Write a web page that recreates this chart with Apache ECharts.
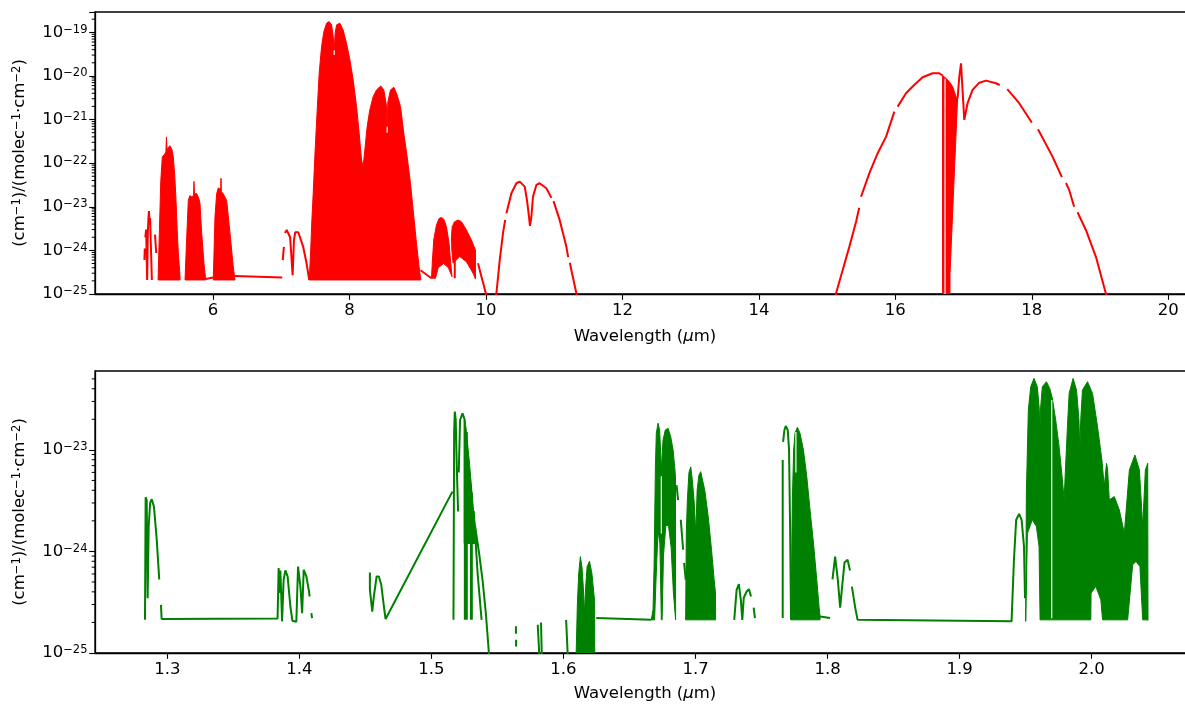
<!DOCTYPE html>
<html><head><meta charset="utf-8">
<script src="https://cdn.jsdelivr.net/npm/echarts@6/dist/echarts.min.js"></script>
<style>html,body{margin:0;padding:0;background:#fff}#c{width:1185px;height:704px}</style>
</head><body><div id="c"></div>
<script>
// ---------- tick values / labels ----------
const topXTicks = [6, 8, 10, 12, 14, 16, 18, 20];
const botXTicks = [1.3, 1.4, 1.5, 1.6, 1.7, 1.8, 1.9, 2.0];
const topYDecades = [1e-25, 1e-24, 1e-23, 1e-22, 1e-21, 1e-20, 1e-19];
const botYDecades = [1e-25, 1e-24, 1e-23];
const yTickExponents = {'-25':'−25','-24':'−24','-23':'−23','-22':'−22','-21':'−21','-20':'−20','-19':'−19'};
const minorMantissas = [2, 3, 4, 5, 6, 7, 8, 9];
const xAxisTitle = 'Wavelength ({i|μ}m)';
const yAxisTitle = '{b|(cm}{s|−1}{b|)/(molec}{s|−1}{b|·cm}{s|−2}{b|)}';

// ---------- TOP panel (red) : lines ----------
const tCurveA = [[4.995,6e-25],[5.000,1.1e-24],[5.003,null],[5.008,2.0e-24],[5.020,3.0e-24],[5.028,3e-24],[5.035,2.1e-25],[5.045,2.5e-24],[5.055,6e-24],[5.062,8e-24],[5.070,4e-24],[5.078,5.5e-24],[5.090,5.4e-24],[5.100,5e-24],[5.104,2.1e-25],[5.106,null],[5.150,2.3e-24],[5.168,8.7e-25]];
const tLink1 = [[5.893,2.2e-25],[6.004,2.4e-25]];
const tLink2 = [[6.322,2.6e-25],[7.015,2.4e-25]];
const tCurve7 = [[7.022,6e-25],[7.039,1.2e-24],[7.045,null],[7.054,2.5e-24],[7.080,2.94e-24],[7.102,2.9e-24],[7.130,2e-24],[7.152,6e-25],[7.167,2.7e-25],[7.186,1.7e-24],[7.205,2.6e-24],[7.225,2.7e-24],[7.250,2.6e-24],[7.273,2.5e-24],[7.322,1.2e-24],[7.372,5e-25],[7.410,2.1e-25]];
const tLink3 = [[9.041,3.5e-25],[9.202,2.3e-25]];
const tLine954 = [[9.543,4.5e-24],[9.543,2.3e-25]];
const tCurve10 = [[9.884,5.1e-25],[9.934,2.5e-25],[9.967,1.6e-25],[9.997,1.04e-25],[10.02,6e-26]];
const tArch10 = [[10.13,6e-26],[10.153,1.04e-25],[10.202,6e-25],[10.250,2.5e-24],[10.282,5e-24],[10.290,null],[10.300,7.1e-24],[10.373,2.04e-23],[10.446,3.46e-23],[10.495,3.77e-23],[10.568,2.89e-23],[10.601,1.43e-23],[10.631,5.9e-24],[10.645,3.63e-24],[10.666,5.9e-24],[10.689,1.7e-23],[10.739,3.16e-23],[10.787,3.46e-23],[10.885,2.65e-23],[10.960,1.6e-23],[10.970,null],[10.990,1.35e-23],[11.080,5e-24],[11.178,1.22e-24],[11.205,7e-25],[11.210,null],[11.230,5.2e-25],[11.251,3.55e-25],[11.325,1.04e-25],[11.36,6e-26]];
const tArch16a = [[15.10,6e-26],[15.131,1.04e-25],[15.228,3.55e-25],[15.326,1.22e-24],[15.424,4.55e-24],[15.470,9.5e-24],[15.480,null],[15.497,1.7e-23],[15.619,5.9e-23],[15.741,1.69e-22],[15.864,4.05e-22],[15.985,1.52e-21],[15.995,null],[16.033,1.98e-21],[16.156,4.0e-21],[16.253,5.7e-21],[16.399,9.3e-21],[16.546,1.15e-20],[16.644,1.15e-20],[16.692,1.02e-20]];
const tArch16b = [[16.912,3.08e-21],[16.937,9.6e-21],[16.962,1.95e-20],[16.976,8.1e-21],[17.010,9.8e-22],[17.058,2.37e-21],[17.131,4.77e-21],[17.230,7.0e-21],[17.328,7.8e-21],[17.474,6.8e-21],[17.530,6.2e-21],[17.560,null],[17.640,5e-21],[17.815,2.37e-21],[17.980,9.5e-22],[18.000,8.5e-22],[18.030,null],[18.090,6e-22],[18.303,1.41e-22],[18.440,4.8e-23],[18.470,null],[18.500,3.5e-23],[18.547,2.43e-23],[18.620,1e-23],[18.640,null],[18.670,7.5e-24],[18.792,2.94e-24],[18.938,7.2e-25],[19.084,1.04e-25],[19.12,6e-26]];
// white slits (gaps between lines) inside the dense red bands
const tGaps = [[16.728,8.6e-21],[16.728,1e-25],[16.729,null],[7.776,3.9e-20],[7.776,3e-20],[7.777,null],[8.552,6.9e-22],[8.552,5e-22]];

// ---------- TOP panel (red) : dense bands (upper / lower envelopes) ----------
const tBand1Up = [[5.195,2.1e-25],[5.215,3e-24],[5.235,4e-23],[5.257,1.4e-22],[5.290,1.6e-22],[5.310,1.8e-22],[5.318,4e-22],[5.326,2e-22],[5.345,2.3e-22],[5.370,2.5e-22],[5.400,2e-22],[5.418,1.4e-22],[5.440,5e-23],[5.458,1.4e-23],[5.475,3e-24],[5.492,8.6e-25],[5.517,2.5e-25]];
const tBand1Low = [[5.195,2.1e-25],[5.517,2.1e-25]];
const tBand2Up = [[5.590,2.1e-25],[5.615,2e-24],[5.638,1.4e-23],[5.660,1.8e-23],[5.688,1.7e-23],[5.715,1.8e-23],[5.721,3.8e-23],[5.728,2e-23],[5.761,2e-23],[5.790,1.6e-23],[5.809,1.2e-23],[5.834,2.5e-24],[5.868,5e-25],[5.893,2.1e-25]];
const tBand2Low = [[5.590,2.1e-25],[5.893,2.1e-25]];
const tBand3Up = [[6.004,2.1e-25],[6.029,6e-24],[6.054,2e-23],[6.077,2.7e-23],[6.100,2.6e-23],[6.113,2.4e-23],[6.117,4.5e-23],[6.122,2.2e-23],[6.150,2e-23],[6.200,1.4e-23],[6.249,2.5e-24],[6.297,4.2e-25],[6.322,2.1e-25]];
const tBand3Low = [[6.004,2.1e-25],[6.322,2.1e-25]];
const tMainUp = [[7.410,2.1e-25],[7.430,8.6e-25],[7.449,5e-24],[7.468,2e-23],[7.497,2e-22],[7.527,1.66e-21],[7.556,1.15e-20],[7.591,4.7e-20],[7.625,1.04e-19],[7.664,1.62e-19],[7.702,1.76e-19],[7.738,1.48e-19],[7.761,8e-20],[7.776,3.9e-20],[7.790,9.5e-20],[7.811,1.48e-19],[7.859,1.62e-19],[7.907,1.13e-19],[7.957,5.6e-20],[8.006,2.33e-20],[8.054,8.1e-21],[8.104,1.98e-21],[8.142,4.85e-22],[8.177,1.18e-22],[8.200,8.3e-23],[8.225,2e-22],[8.259,6.9e-22],[8.298,1.66e-21],[8.347,3.35e-21],[8.396,4.77e-21],[8.459,5.9e-21],[8.503,4.77e-21],[8.540,2.2e-21],[8.552,6.9e-22],[8.562,2.5e-21],[8.601,4.77e-21],[8.650,5.5e-21],[8.698,3.67e-21],[8.748,1.98e-21],[8.796,4.85e-22],[8.845,1.41e-22],[8.894,3.46e-23],[8.943,5.9e-24],[8.982,1.46e-24],[9.020,4.2e-25],[9.045,2.1e-25]];
const tMainLow = [[7.410,2.1e-25],[9.045,2.1e-25]];
const tBand9aUp = [[9.202,2.3e-25],[9.216,6e-25],[9.235,1.73e-24],[9.275,3.83e-24],[9.313,5.4e-24],[9.348,5.7e-24],[9.382,5.2e-24],[9.421,3.5e-24],[9.459,1.46e-24],[9.484,5.1e-25],[9.503,2.5e-25]];
const tBand9aLow = [[9.202,2.3e-25],[9.260,2.3e-25],[9.300,4e-25],[9.380,5e-25],[9.450,4e-25],[9.503,2.5e-25]];
const tBand9bUp = [[9.495,2.07e-24],[9.505,3.5e-24],[9.543,4.55e-24],[9.591,4.98e-24],[9.641,4.55e-24],[9.714,2.94e-24],[9.787,1.73e-24],[9.846,1.02e-24]];
const tBand9bLow = [[9.495,2.07e-24],[9.500,1e-24],[9.518,5.1e-25],[9.616,7.2e-25],[9.714,5.5e-25],[9.811,3e-25],[9.846,2.2e-25]];
const tBand16Up = [[16.692,1.02e-20],[16.720,9.5e-21],[16.750,8.5e-21],[16.790,7.4e-21],[16.839,5.7e-21],[16.889,3.35e-21],[16.912,3.08e-21]];
const tBand16Low = [[16.692,1e-25],[16.800,1e-25],[16.801,3e-25],[16.856,3e-23],[16.912,3.08e-21]];

// ---------- BOTTOM panel (green) : lines ----------
const gCurve1 = [[1.2831,2.12e-25],[1.2836,3.42e-24],[1.2844,3.2e-24],[1.2851,3.47e-25],[1.2859,1.76e-24],[1.2870,3e-24],[1.2882,3.27e-24],[1.2899,2.76e-24],[1.2920,1.3e-24],[1.2939,5.3e-25],[1.2945,null],[1.2952,2.98e-25],[1.2957,2.16e-25],[1.3835,2.19e-25],[1.3843,6.85e-25],[1.3850,3.9e-25],[1.3856,6.5e-25],[1.3862,4e-25],[1.3869,2.05e-25],[1.3881,5.26e-25],[1.3894,6.5e-25],[1.3911,5.67e-25],[1.3932,2.87e-25],[1.3947,2.08e-25],[1.3977,2.03e-25],[1.3990,7.1e-25],[1.4008,4.5e-25],[1.4021,2.47e-25],[1.4033,6.6e-25],[1.4053,5.67e-25],[1.4071,4.2e-25],[1.4078,3.6e-25],[1.4083,null],[1.4091,2.47e-25],[1.4096,2.21e-25]];
const gCurve2 = [[1.4534,6.2e-25],[1.4534,4.2e-25],[1.4552,2.56e-25],[1.4564,3.6e-25],[1.4585,5.67e-25],[1.4602,5.67e-25],[1.4620,4.7e-25],[1.4640,2.87e-25],[1.4653,2.16e-25],[1.5159,3.88e-24]];
const gCurve3 = [[1.5167,2.12e-25],[1.5172,1.5e-23],[1.5177,2.38e-23],[1.5184,1.97e-23],[1.5192,6.8e-24],[1.5202,2.47e-24],[1.5204,null],[1.5207,6e-24],[1.5217,1.97e-23],[1.5235,2.29e-23],[1.5253,1.97e-23]];
const gLines4 = [[1.5253,1.97e-23],[1.5253,2.12e-25],[1.5254,null],[1.5268,1.5e-23],[1.5268,2.12e-25],[1.5269,null],[1.5299,4.5e-24],[1.5299,2.12e-25],[1.5300,null],[1.5306,3.8e-24],[1.5306,2.12e-25],[1.5307,null],[1.5320,2.5e-24],[1.5350,6e-25],[1.5380,2.12e-25],[1.5381,null],[1.5330,1.8e-24],[1.5361,9.6e-25],[1.5387,5.26e-25],[1.5412,2.47e-25],[1.5438,9e-26]];
const gLines5 = [[1.5640,1.83e-25],[1.5640,1.55e-25],[1.5641,null],[1.5641,1.35e-25],[1.5641,1.16e-25],[1.5642,null],[1.5805,1.9e-25],[1.5818,9e-26],[1.5819,null],[1.5830,2.0e-25],[1.5836,9e-26],[1.5837,null],[1.6020,2.12e-25],[1.6033,9e-26]];
const gCurve7 = [[1.6248,2.21e-25],[1.6665,2.12e-25]];
const gCurve9 = [[1.6856,4.5e-24],[1.6868,3.2e-24],[1.6875,null],[1.6888,2.05e-24],[1.6906,1.04e-24],[1.6909,null],[1.6913,7.7e-25],[1.6926,5.26e-25]];
const gCurve11 = [[1.7293,2.12e-25],[1.7311,4.19e-25],[1.7328,4.77e-25],[1.7343,3.34e-25],[1.7354,2.12e-25],[1.7365,3.5e-25],[1.7387,4.03e-25],[1.7404,4.26e-25],[1.7420,3.6e-25],[1.7425,null],[1.7440,2.8e-25],[1.7450,2.21e-25]];
const gCurve12 = [[1.7660,2.21e-25],[1.7660,7.96e-24],[1.7661,null],[1.7663,1.2e-23],[1.7673,1.57e-23],[1.7683,1.72e-23],[1.7698,1.57e-23],[1.7708,1e-23],[1.7716,1.76e-24],[1.7723,2.12e-25]];
const gCurve14 = [[1.7943,2.29e-25],[1.8019,2.21e-25],[1.8025,null],[1.8037,5.3e-25],[1.8057,8.9e-25],[1.8077,5.3e-25],[1.8095,2.8e-25],[1.8110,4.5e-25],[1.8128,7.8e-25],[1.8151,8.27e-25],[1.8170,6.5e-25],[1.8176,null],[1.8184,4.5e-25],[1.8209,2.8e-25],[1.8227,2.12e-25],[1.9393,2.05e-25],[1.9411,8.27e-25],[1.9428,2.05e-24],[1.9450,2.34e-24],[1.9469,2.05e-24],[1.9487,1.12e-24],[1.9495,3.47e-25]];
// white slits inside the dense green bands
const gGaps = [[1.9697,3.1e-23],[1.9697,2.2e-25],[1.9698,null],[1.7760,1.5e-23],[1.7760,6e-24],[1.7761,null],[1.6741,5.5e-24],[1.6741,1.5e-24]];

// ---------- BOTTOM panel (green) : dense bands ----------
const gBand4Up = [[1.5248,1.97e-23],[1.5261,1.69e-23],[1.5286,7.96e-24],[1.5312,3.2e-24],[1.5336,1.51e-24]];
const gBand4Low = [[1.5248,1.2e-24],[1.5336,1.2e-24]];
const gBand6Up = [[1.6096,1e-25],[1.6105,3e-25],[1.6115,6e-25],[1.6128,8.9e-25],[1.6140,7e-25],[1.6150,4.5e-25],[1.6159,2.5e-25],[1.6168,4.5e-25],[1.6179,7.1e-25],[1.6197,8e-25],[1.6215,6.1e-25],[1.6235,3.3e-25],[1.6237,1e-25]];
const gBand6Low = [[1.6096,1e-25],[1.6237,1e-25]];
const gBand8Up = [[1.6665,2.12e-25],[1.6678,2.67e-25],[1.6686,7.1e-25],[1.6696,6.8e-24],[1.6703,1.46e-23],[1.6716,1.83e-23],[1.6728,1.57e-23],[1.6738,8e-24],[1.6741,5.5e-24],[1.6745,8e-24],[1.6754,1.25e-23],[1.6771,1.57e-23],[1.6792,1.63e-23],[1.6812,1.35e-23],[1.6830,9.97e-24],[1.6842,6.8e-24],[1.6848,5.5e-24],[1.6849,2.12e-25]];
const gBand8Low = [[1.6665,2.12e-25],[1.6690,2.12e-25],[1.6700,5e-25],[1.6716,1.6e-24],[1.6730,1.2e-24],[1.6741,2.12e-25],[1.6747,2.12e-25],[1.6757,9e-25],[1.6775,1.8e-24],[1.6795,1.8e-24],[1.6815,1.1e-24],[1.6832,4e-25],[1.6849,2.12e-25]];
const gBand10Up = [[1.6925,2.12e-25],[1.6930,1.5e-24],[1.6938,3.2e-24],[1.6950,6e-24],[1.6964,6.8e-24],[1.6976,5e-24],[1.6990,3e-24],[1.7002,1.5e-24],[1.7012,4e-24],[1.7025,5.6e-24],[1.7039,6.1e-24],[1.7070,4.0e-24],[1.7096,2.2e-24],[1.7121,1.04e-24],[1.7141,5.26e-25],[1.7151,3.9e-25],[1.7152,2.12e-25]];
const gBand10Low = [[1.6925,2.12e-25],[1.7152,2.12e-25]];
const gBand13Up = [[1.7723,2.12e-25],[1.7733,3.2e-24],[1.7743,9.97e-24],[1.7753,1.46e-23],[1.7771,1.67e-23],[1.7791,1.46e-23],[1.7817,9.97e-24],[1.7842,5.5e-24],[1.7867,2.56e-24],[1.7893,1.21e-24],[1.7918,5.26e-25],[1.7935,2.87e-25],[1.7943,2.29e-25]];
const gBand13Low = [[1.7723,2.12e-25],[1.7943,2.12e-25]];
const gBand15Up = [[1.9500,2.05e-25],[1.9505,3.74e-24],[1.9520,2.47e-23],[1.9538,4.18e-23],[1.9563,5.06e-23],[1.9588,4.18e-23],[1.9603,2.5e-23],[1.9606,1.35e-23],[1.9612,2.5e-23],[1.9626,4.18e-23],[1.9657,4.69e-23],[1.9682,4.03e-23],[1.9702,3.22e-23],[1.9727,1.97e-23],[1.9753,1.07e-23],[1.9778,5.06e-24],[1.9791,3.22e-24],[1.9800,6e-24],[1.9816,1.69e-23],[1.9829,3.6e-23],[1.9859,5.06e-23],[1.9885,3.88e-23],[1.9903,2e-23],[1.9910,1e-23],[1.9917,2e-23],[1.9930,3.88e-23],[1.9968,4.69e-23],[2.0006,3.6e-23],[2.0044,1.69e-23],[2.0077,7.96e-24],[2.0095,4.35e-24],[2.0112,7.38e-24],[2.0120,6.5e-24],[2.0133,3.22e-24],[2.0171,3.47e-24],[2.0209,2.56e-24],[2.0247,1.51e-24],[2.0285,6.34e-24],[2.0327,8.9e-24],[2.0361,6.34e-24],[2.0386,1.76e-24],[2.0406,6.34e-24],[2.0424,7.38e-24],[2.0426,2.1e-25]];
const gBand15Low = [[1.9500,2.05e-25],[1.9513,1.51e-24],[1.9550,2.05e-24],[1.9581,1.76e-24],[1.9601,1.12e-24],[1.9609,2.12e-25],[1.9993,2.12e-25],[1.9995,3.89e-25],[2.0031,4.52e-25],[2.0069,3.34e-25],[2.0082,2.12e-25],[2.0272,2.12e-25],[2.0310,7.38e-25],[2.0335,7.96e-25],[2.0365,7.1e-25],[2.0386,2.12e-25],[2.0426,2.12e-25]];

// ---------- build ----------
const RED = '#ff0000', GREEN = '#008000';
const FONT = 'DejaVu Sans';
const FS = 16.5;
const topX = [4.2707, 20.391], botX = [1.24525, 2.0782];
const topY = [9.9999e-26, 2.92e-19], botY = [9.9999e-26, 5.98e-23];
const GRID_L = 95, GRID_W = 1100, GRID_H = 282, TOP0 = 12, TOP1 = 371;

const topLines = [tCurveA, tLink1, tLink2, tCurve7, tLink3, tLine954, tCurve10, tArch10, tArch16a, tArch16b];
const topBands = [[tBand1Up,tBand1Low],[tBand2Up,tBand2Low],[tBand3Up,tBand3Low],[tMainUp,tMainLow],[tBand9aUp,tBand9aLow],[tBand9bUp,tBand9bLow],[tBand16Up,tBand16Low]];
const botLines = [gCurve1, gCurve2, gCurve3, gLines4, gLines5, gCurve7, gCurve9, gCurve11, gCurve12, gCurve14];
const botBands = [[gBand4Up,gBand4Low],[gBand6Up,gBand6Low],[gBand8Up,gBand8Low],[gBand10Up,gBand10Low],[gBand13Up,gBand13Low],[gBand15Up,gBand15Low]];

function lineSeries(data, color, idx, width, z) {
  return {type:'line', xAxisIndex:idx, yAxisIndex:idx, data:data, showSymbol:false, symbol:'none',
    connectNulls:false, clip:true, silent:true, animation:false, z:z || 3,
    lineStyle:{color:color, width:width || 2}, itemStyle:{color:color}};
}
function bandSeries(bands, color, idx) {
  return {type:'custom', xAxisIndex:idx, yAxisIndex:idx, clip:true, silent:true, animation:false, z:2,
    data: bands.map(b => b[0][0]),
    renderItem: function (params, api) {
      const b = bands[params.dataIndex];
      const pts = b[0].map(p => api.coord(p)).concat(b[1].slice().reverse().map(p => api.coord(p)));
      return {type:'polygon', shape:{points:pts}, style:{fill:color, stroke:color, lineWidth:1}};
    }};
}
function minorTicks(decades, ymax) {
  const out = [];
  decades.forEach(d => minorMantissas.forEach(m => { const v = m * d; if (v <= ymax) out.push(v); }));
  return out;
}
function minorTickSeries(vals, xmin, idx) {
  return {type:'custom', xAxisIndex:idx, yAxisIndex:idx, clip:false, silent:true, animation:false, z:10,
    data: vals.map(v => [xmin, v]),
    renderItem: function (params, api) {
      const c = api.coord([api.value(0), api.value(1)]);
      return {type:'line', shape:{x1:c[0], y1:c[1], x2:c[0]-3.3, y2:c[1]}, style:{stroke:'#000', lineWidth:1}};
    }};
}
function yFormatter(v) {
  const l = Math.log10(v), e = Math.round(l);
  if (Math.abs(l - e) > 1e-4) return '';
  const s = yTickExponents[String(e)];
  return s ? '{b|10}{s|' + s + '}' : '';
}
const richSup = {
  b:{fontFamily:FONT, fontSize:FS, lineHeight:17, verticalAlign:'bottom', color:'#000'},
  s:{fontFamily:FONT, fontSize:11.5, lineHeight:11, verticalAlign:'top', color:'#000'}
};
function xAxis(idx, ext, ticks, fmt) {
  return {type:'value', gridIndex:idx, min:ext[0], max:ext[1],
    name:xAxisTitle, nameLocation:'middle', nameGap: idx === 0 ? 34 : 32,
    nameTextStyle:{fontFamily:FONT, fontSize:FS, color:'#000', rich:{i:{fontFamily:FONT, fontSize:FS, fontStyle:'italic', color:'#000'}}},
    axisLine:{show:true, onZero:false, lineStyle:{color:'#000', width:1.3}},
    axisTick:{show:true, inside:false, length:5.8, customValues:ticks, lineStyle:{color:'#000', width:1.1}},
    axisLabel:{customValues:ticks, margin:8, formatter:fmt, fontFamily:FONT, fontSize:FS, color:'#000'},
    splitLine:{show:false}};
}
function yAxis(idx, ext) {
  return {type:'log', logBase:10, gridIndex:idx, min:ext[0], max:ext[1],
    axisLine:{show:true, onZero:false, lineStyle:{color:'#000', width:1.3}},
    axisTick:{show:true, inside:false, length:5.8, lineStyle:{color:'#000', width:1.1}},
    axisLabel:{margin:7.5, formatter:yFormatter, showMinLabel:true, rich:richSup, fontFamily:FONT, fontSize:FS, color:'#000'},
    minorTick:{show:false}, splitLine:{show:false}};
}
function yTitle(cy) {
  return {type:'text', x:20, y:cy, rotation:Math.PI/2, silent:true, z:100,
    style:{text:yAxisTitle, rich:richSup, fontFamily:FONT, fontSize:FS, fill:'#000', align:'center', verticalAlign:'middle'}};
}

const series = [];
series.push(bandSeries(topBands, RED, 0));
series.push(lineSeries(tGaps, '#ffffff', 0, 1.2, 2.5));
topLines.forEach(d => series.push(lineSeries(d, RED, 0)));
series.push(bandSeries(botBands, GREEN, 1));
series.push(lineSeries(gGaps, '#ffffff', 1, 1.2, 2.5));
botLines.forEach(d => series.push(lineSeries(d, GREEN, 1)));
series.push(minorTickSeries(minorTicks(topYDecades, topY[1]), topX[0], 0));
series.push(minorTickSeries(minorTicks(botYDecades, botY[1]), botX[0], 1));

const chart = echarts.init(document.getElementById('c'), null, {renderer:'canvas', width:1185, height:704});
chart.setOption({
  animation:false,
  backgroundColor:'#ffffff',
  grid:[
    {left:GRID_L, top:TOP0, width:GRID_W, height:GRID_H, show:true, borderColor:'#000', borderWidth:1.3, containLabel:false, outerBoundsMode:'none'},
    {left:GRID_L, top:TOP1, width:GRID_W, height:GRID_H, show:true, borderColor:'#000', borderWidth:1.3, containLabel:false, outerBoundsMode:'none'}
  ],
  xAxis:[xAxis(0, topX, topXTicks, v => String(v)), xAxis(1, botX, botXTicks, v => v.toFixed(1))],
  yAxis:[yAxis(0, topY), yAxis(1, botY)],
  graphic:[yTitle(TOP0 + GRID_H / 2), yTitle(TOP1 + GRID_H / 2)],
  series:series
});
</script></body></html>
